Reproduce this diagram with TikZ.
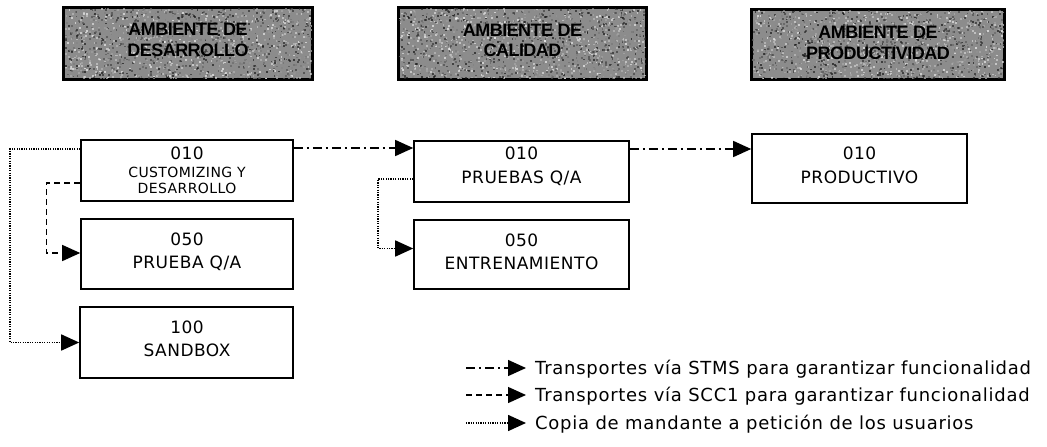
\documentclass[tikz,border=0pt]{standalone}
\usepackage{fontspec}
\setmainfont{DejaVu Sans}
\newfontfamily\headfont[LetterSpace=-3]{Liberation Sans}
\newfontfamily\boxfont[LetterSpace=3]{DejaVu Sans}
\newfontfamily\legfont[LetterSpace=4]{DejaVu Sans}
\usetikzlibrary{arrows.meta}

\tikzset{
  envbox/.style={draw, line width=1.8pt, fill=black!45, inner sep=0pt},
  sysbox/.style={draw, line width=1.6pt, fill=white, inner sep=0pt},
  headtxt/.style={anchor=base, inner sep=0pt, font=\headfont\bfseries\fontsize{18}{20}\selectfont},
  numtxt/.style={anchor=base, inner sep=0pt, font=\boxfont\fontsize{17}{19}\selectfont},
  nametxt/.style={anchor=base, inner sep=0pt, font=\boxfont\fontsize{17}{19}\selectfont},
  smalltxt/.style={anchor=base, inner sep=0pt, font=\boxfont\fontsize{14}{16}\selectfont},
  legtxt/.style={anchor=base west, inner sep=0pt, font=\legfont\fontsize{18}{20}\selectfont},
  tip/.style={-{Triangle[length=18pt,width=16pt]}},
  stms/.style={tip, line width=1.4pt, dash pattern=on 9pt off 4pt on 2pt off 4pt},
  scc/.style={tip, line width=1.4pt, dash pattern=on 6pt off 4pt},
  copia/.style={tip, line width=1.6pt, dash pattern=on 1.2pt off 1.2pt},
}

% grainy texture for the environment headers
\newcommand\grain[4]{%
  \begin{scope}
    \clip (#1,#2) rectangle (#3,#4);
    \foreach \k in {1,...,1600}{%
      \pgfmathsetmacro\px{#1+rnd*(#3-#1)}%
      \pgfmathsetmacro\py{#2+rnd*(#4-#2)}%
      \pgfmathsetmacro\g{int(rnd*100)}%
      \fill[black!\g, opacity=.6] (\px,\py) rectangle ++(1.8,1.8);
    }
  \end{scope}}

\begin{document}
\begin{tikzpicture}[x=1pt,y=-1pt]
\useasboundingbox (0,0) rectangle (1047,447);
\pgfmathsetseed{4242}

% environment headers
\node[envbox, minimum width=248pt, minimum height=71pt] (h1) at (188,43.5) {};
\node[envbox, minimum width=247pt, minimum height=71pt] (h2) at (522.5,43.5) {};
\node[envbox, minimum width=252pt, minimum height=69pt] (h3) at (878,44.5) {};
\grain{64}{8}{312}{79}
\grain{399}{8}{646}{79}
\grain{752}{10}{1004}{79}
\draw[line width=1.8pt] (h1.north west) rectangle (h1.south east);
\draw[line width=1.8pt] (h2.north west) rectangle (h2.south east);
\draw[line width=1.8pt] (h3.north west) rectangle (h3.south east);
\node[headtxt] (h1a) at (188,35.5) {AMBIENTE DE};
\node[headtxt] (h1b) at (188,56.5) {DESARROLLO};
\node[headtxt] (h2a) at (522.5,36.5) {AMBIENTE DE};
\node[headtxt] (h2b) at (522.5,56.5) {CALIDAD};
\node[headtxt] (h3a) at (878,38.5) {AMBIENTE DE};
\node[headtxt] (h3b) at (878,59.5) {PRODUCTIVIDAD};

% client boxes
\node[sysbox, minimum width=212pt, minimum height=61pt] (b1) at (187,170.5) {};
\node[sysbox, minimum width=212pt, minimum height=70pt] (b2) at (187,254) {};
\node[sysbox, minimum width=213pt, minimum height=71pt] (b3) at (186.5,342.5) {};
\node[sysbox, minimum width=215pt, minimum height=61pt] (q1) at (521.5,171.5) {};
\node[sysbox, minimum width=215pt, minimum height=69pt] (q2) at (521.5,254.5) {};
\node[sysbox, minimum width=215pt, minimum height=69pt] (p1) at (859.5,168.5) {};

\node[numtxt] (b1n) at (187,159) {010};
\node[smalltxt] (b1a) at (187,177) {CUSTOMIZING Y};
\node[smalltxt] (b1b) at (187,193) {DESARROLLO};
\node[numtxt] (b2n) at (187,245) {050};
\node[nametxt] (b2a) at (187,268) {PRUEBA Q/A};
\node[numtxt] (b3n) at (187,333) {100};
\node[nametxt] (b3a) at (187,356) {SANDBOX};
\node[numtxt] (q1n) at (521.5,159) {010};
\node[nametxt] (q1a) at (521.5,183) {PRUEBAS Q/A};
\node[numtxt] (q2n) at (521.5,246) {050};
\node[nametxt] (q2a) at (521.5,269) {ENTRENAMIENTO};
\node[numtxt] (p1n) at (859.5,159) {010};
\node[nametxt] (p1a) at (859.5,183) {PRODUCTIVO};

% transports and client copies
\draw[stms] ([yshift=22.5pt]b1.east) -- ([yshift=22.5pt]b1.east -| q1.west);
\draw[stms] ([yshift=22.5pt]q1.east) -- ([yshift=22.5pt]q1.east -| p1.west);
\draw[scc] ([yshift=-12.5pt]b1.west) -- ++(-34,0) |- ([yshift=1pt]b2.west);
\draw[copia] ([yshift=21.5pt]b1.west) -- ++(-70,0) |- (b3.west);
\draw[copia] ([yshift=-7.5pt]q1.west) -- ++(-35,0) |- ([yshift=6pt]q2.west);

% legend
\coordinate (l1s) at (466,368); \coordinate (l1e) at (526,368);
\coordinate (l2s) at (466,395); \coordinate (l2e) at (526,395);
\coordinate (l3s) at (466,423); \coordinate (l3e) at (526,423);
\draw[stms] (l1s) -- (l1e);
\draw[scc] (l2s) -- (l2e);
\draw[copia] (l3s) -- (l3e);
\node[legtxt] (t1) at (535,374) {Transportes vía STMS para garantizar funcionalidad};
\node[legtxt] (t2) at (535,401) {Transportes vía SCC1 para garantizar funcionalidad};
\node[legtxt] (t3) at (535,429) {Copia de mandante a petición de los usuarios};
\end{tikzpicture}
\end{document}
